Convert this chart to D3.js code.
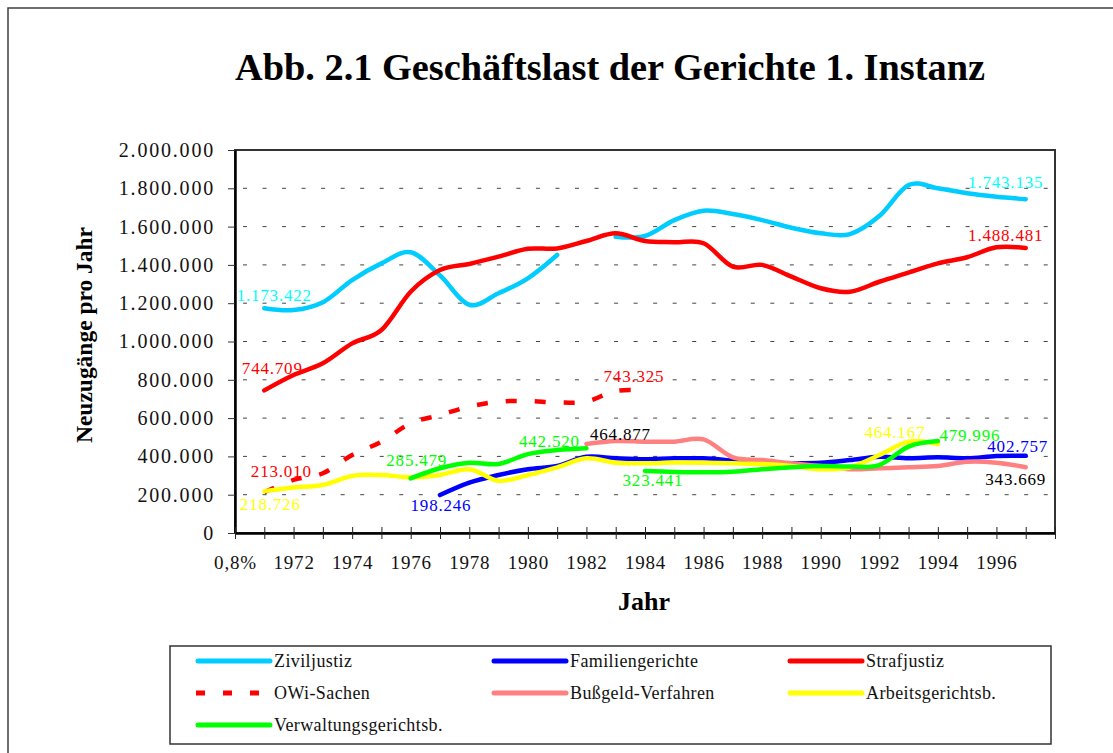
<!DOCTYPE html>
<html>
<head>
<meta charset="utf-8">
<script src="https://cdn.jsdelivr.net/npm/d3@7"></script>
<style>
  body { margin: 0; background: #fff; }
  text { font-family: "Liberation Serif", "Times New Roman", serif; }
</style>
</head>
<body>
<svg id="chart" width="1113" height="753"></svg>
<script>
// categories on the x axis (first one is a stray label in the original)
const categories = ["0,8%", "1971", "1972", "1973", "1974", "1975", "1976", "1977", "1978", "1979",
  "1980", "1981", "1982", "1983", "1984", "1985", "1986", "1987", "1988", "1989",
  "1990", "1991", "1992", "1993", "1994", "1995", "1996", "1997"]
const xTickLabels = ["0,8%", "1972", "1974", "1976", "1978", "1980", "1982", "1984",
  "1986", "1988", "1990", "1992", "1994", "1996"]
const yTicks = [0, 200000, 400000, 600000, 800000, 1000000, 1200000, 1400000, 1600000, 1800000, 2000000]

// values per year 1971..1997
const ziviljustiz = [1173422, 1164000, 1205000, 1321000, 1408000, 1466000, 1345000, 1192000, 1252000, 1330000,
  1452000, null, 1547000, 1551000, 1634000, 1683000, 1666000, 1634000, 1594000, 1565000,
  1561000, 1655000, 1817000, 1800000, 1774000, 1756000, 1743135]
const familiengerichte = [null, null, null, null, null, null, 198246, 263000, 303000, 333000,
  350000, 398000, 390000, 385000, 390000, 390000, 378000, 364000, 364000, 367000,
  381000, 398000, 390000, 395000, 390000, 402000, 402757]
const strafjustiz = [744709, 825000, 886000, 990000, 1060000, 1260000, 1373000, 1405000, 1443000, 1484000,
  1486000, 1525000, 1565000, 1525000, 1518000, 1513000, 1391000, 1400000, 1339000, 1278000,
  1260000, 1312000, 1360000, 1408000, 1440000, 1492000, 1488481]
const owiSachen = [213010, 277000, 312000, 407000, 477000, 573000, 616000, 660000, 686000, 689000,
  682000, 686000, 742000, 743325, null, null, null, null, null, null,
  null, null, null, null, null, null, null]
const bussgeld = [null, null, null, null, null, null, null, null, null, null,
  null, 464877, 480000, 477000, 477000, 489000, 395000, 381000, 364000, 350000,
  333000, 338000, 343000, 350000, 372000, 367000, 343669]
const arbeitsgerichte = [218726, 238000, 251000, 298000, 303000, 291000, 303000, 333000, 273000, 303000,
  343000, 390000, 367000, 364000, 368000, 367000, 364000, 360000, 350000, 333000,
  343000, 407000, 477000, 464167, null, null, null]
const verwaltungsgerichte = [null, null, null, null, null, 285479, 338000, 367000, 360000, 412000,
  433000, 442520, null, 323441, 319000, 317000, 320000, 333000, 343000, 350000,
  347000, 355000, 451000, 479996, null, null, null]

const series = [
  { name: "Ziviljustiz", values: ziviljustiz, color: "#00CCFF", labelColor: "#00FFFF",
    labels: [{ i: 0, dx: 10, dy: -7 }, { i: 26, dx: -20, dy: -11 }] },
  { name: "Familiengerichte", values: familiengerichte, color: "#0000FF", labelColor: "#0000FF",
    labels: [{ i: 6, dx: 1, dy: 16 }, { i: 26, dx: -8, dy: -4 }] },
  { name: "Strafjustiz", values: strafjustiz, color: "#FF0000", labelColor: "#FF0000",
    labels: [{ i: 0, dx: 8, dy: -16 }, { i: 26, dx: -20, dy: -7 }] },
  { name: "OWi-Sachen", values: owiSachen, color: "#FF0000", labelColor: "#FF0000", dashed: true,
    labels: [{ i: 0, dx: 17, dy: -15 }, { i: 13, dx: -11, dy: -9 }] },
  { name: "Bußgeld-Verfahren", values: bussgeld, color: "#FF8080", labelColor: "#000000",
    labels: [{ i: 11, dx: 34, dy: -4 }, { i: 26, dx: -10, dy: 18 }] },
  { name: "Arbeitsgerichtsb.", values: arbeitsgerichte, color: "#FFFF00", labelColor: "#FFFF00",
    labels: [{ i: 0, dx: 6, dy: 19 }, { i: 23, dx: -43, dy: -6 }] },
  { name: "Verwaltungsgerichtsb.", values: verwaltungsgerichte, color: "#00FF00", labelColor: "#00FF00",
    labels: [{ i: 5, dx: 6, dy: -12 }, { i: 11, dx: -37, dy: -1 }, { i: 13, dx: 8, dy: 15 }, { i: 23, dx: 32, dy: 0 }] }
]

const svg = d3.select("#chart")
const plot = { left: 235, top: 150, right: 1055, bottom: 533 }

const de = d3.formatLocale({ decimal: ",", thousands: ".", grouping: [3], currency: ["", " €"] })
const fmt = de.format(",")

const x = d3.scaleLinear().domain([0, categories.length]).range([plot.left, plot.right])
const y = d3.scaleLinear().domain([0, 2000000]).range([plot.bottom, plot.top])

// outer frame
svg.append("rect")
  .attr("x", 8).attr("y", 8).attr("width", 1200).attr("height", 900)
  .attr("fill", "none").attr("stroke", "#404040").attr("stroke-width", 1.5)

svg.append("text")
  .attr("x", 235).attr("y", 80)
  .attr("textLength", 750).attr("lengthAdjust", "spacingAndGlyphs")
  .attr("font-size", 37).attr("font-weight", "bold")
  .text("Abb. 2.1 Geschäftslast der Gerichte 1. Instanz")

// plot frame (top/right)
svg.append("rect")
  .attr("x", plot.left).attr("y", plot.top)
  .attr("width", plot.right - plot.left).attr("height", plot.bottom - plot.top)
  .attr("fill", "none").attr("stroke", "#333").attr("stroke-width", 2)

// gridlines
svg.append("g")
  .selectAll("line")
  .data(yTicks.filter(d => d > 0 && d < 2000000))
  .join("line")
  .attr("x1", plot.left + 8).attr("x2", plot.right)
  .attr("y1", d => y(d)).attr("y2", d => y(d))
  .attr("stroke", "#444").attr("stroke-width", 1)
  .attr("stroke-dasharray", "4 15.53")

// y axis
const yAxis = svg.append("g")
  .attr("transform", `translate(${plot.left},0)`)
  .call(d3.axisLeft(y).tickValues(yTicks).tickSize(7).tickSizeOuter(0).tickPadding(13).tickFormat(fmt))
yAxis.select(".domain").attr("stroke", "#000").attr("stroke-width", 2.5)
yAxis.selectAll("line").attr("stroke", "#333")
yAxis.selectAll("text")
  .attr("font-family", "Liberation Serif").attr("font-size", 20)
  .attr("letter-spacing", 1.8).attr("fill", "#111")

// x axis
const xAxis = svg.append("g")
  .attr("transform", `translate(0,${plot.bottom})`)
  .call(d3.axisBottom(x).ticks(categories.length).tickValues(d3.range(categories.length + 1))
    .tickSize(6).tickSizeOuter(0)
    .tickFormat(i => xTickLabels.includes(categories[i]) ? categories[i] : ""))
xAxis.select(".domain").attr("stroke", "#000").attr("stroke-width", 2.5)
xAxis.selectAll(".tick line").attr("y1", -6).attr("stroke", "#222")
xAxis.selectAll("text")
  .attr("y", 36).attr("dy", 0)
  .attr("font-family", "Liberation Serif").attr("font-size", 19)
  .attr("letter-spacing", 0.8).attr("fill", "#111")

// axis titles
svg.append("text")
  .attr("transform", "translate(92,335) rotate(-90)")
  .attr("text-anchor", "middle")
  .attr("textLength", 216).attr("lengthAdjust", "spacingAndGlyphs")
  .attr("font-size", 23).attr("font-weight", "bold")
  .text("Neuzugänge pro Jahr")

svg.append("text")
  .attr("x", 644).attr("y", 610)
  .attr("text-anchor", "middle")
  .attr("font-size", 26).attr("font-weight", "bold")
  .text("Jahr")

// lines
const line = d3.line()
  .defined(d => d.v != null)
  .x(d => x(d.i + 1))
  .y(d => y(d.v))
  .curve(d3.curveCatmullRom.alpha(0))

const lines = svg.append("g")
series.forEach(s => {
  const pts = s.values.map((v, i) => ({ i, v }))
  lines.append("path")
    .attr("d", line(pts))
    .attr("fill", "none")
    .attr("stroke", s.color)
    .attr("stroke-width", 4.5)
    .attr("stroke-linejoin", "round")
    .attr("stroke-linecap", s.dashed ? "butt" : "round")
    .attr("stroke-dasharray", s.dashed ? "11 18" : null)
})

// data labels
const labels = svg.append("g")
series.forEach(s => {
  s.labels.forEach(l => {
    labels.append("text")
      .attr("x", x(l.i + 1) + l.dx)
      .attr("y", y(s.values[l.i]) + l.dy)
      .attr("text-anchor", "middle")
      .attr("font-size", 17)
      .attr("letter-spacing", 0.8)
      .attr("fill", s.labelColor)
      .text(fmt(s.values[l.i]))
  })
})

// legend
const legend = svg.append("g")
legend.append("rect")
  .attr("x", 170).attr("y", 646).attr("width", 881).attr("height", 98)
  .attr("fill", "none").attr("stroke", "#333").attr("stroke-width", 1.5)

const colX = [197, 493, 789]
const rowY = [661, 693, 725]
series.forEach((s, k) => {
  const cx = colX[k % 3], cy = rowY[Math.floor(k / 3)]
  legend.append("line")
    .attr("x1", s.dashed ? cx - 1 : cx + 1).attr("x2", s.dashed ? cx + 64 : cx + 73)
    .attr("y1", cy).attr("y2", cy)
    .attr("stroke", s.color).attr("stroke-width", 5)
    .attr("stroke-linecap", s.dashed ? "butt" : "round")
    .attr("stroke-dasharray", s.dashed ? "9 18" : null)
  legend.append("text")
    .attr("x", cx + 77).attr("y", cy + 6)
    .attr("font-size", 18)
    .attr("letter-spacing", 0.4)
    .attr("fill", "#111")
    .text(s.name)
})
</script>
</body>
</html>
